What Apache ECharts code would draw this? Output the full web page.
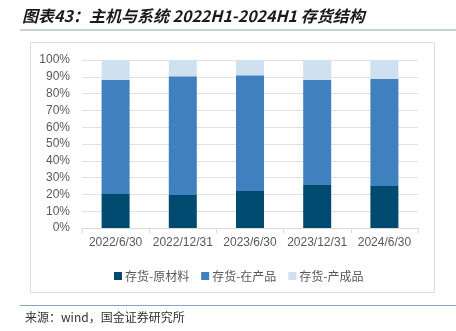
<!DOCTYPE html>
<html><head><meta charset="utf-8">
<script src="https://cdn.jsdelivr.net/npm/echarts@6/dist/echarts.min.js"></script>
<style>html,body{margin:0;padding:0;background:#fff}#c{width:456px;height:331px}</style>
</head><body><div id="c"></div>
<script>
const categories = ['2022/6/30','2022/12/31','2023/6/30','2023/12/31','2024/6/30'];
const rawMaterial = [20.2, 19.6, 22.0, 25.6, 25.0];
const workInProgress = [68.1, 70.7, 68.9, 62.5, 63.7];
const finishedGoods = [11.7, 9.7, 9.1, 11.9, 11.3];
const seriesNames = ['存货-原材料','存货-在产品','存货-产成品'];
const colors = ['#004a6f','#4080bf','#cfe0f1'];

const chart = echarts.init(document.getElementById('c'));
const mk = (name, data, color) => ({
  name, type:'bar', stack:'s', data, barWidth:28,
  itemStyle:{color}, emphasis:{disabled:true}
});
chart.setOption({
  animation:false,
  color: colors,
  grid:{left:82, right:38, top:60, bottom:103},
  legend:{
    data:seriesNames, top:265, left:109,
    itemWidth:8, itemHeight:8, itemGap:12, icon:'rect',
    textStyle:{color:'#595959', fontSize:12, fontFamily:'Noto Sans CJK SC', padding:[0,0,0,-2]}
  },
  xAxis:{
    type:'category', data:categories,
    axisLine:{lineStyle:{color:'#d9d9d9'}},
    axisTick:{show:true, lineStyle:{color:'#d9d9d9'}},
    axisLabel:{color:'#595959', fontSize:12, margin:9, interval:0, fontFamily:'Liberation Sans'}
  },
  yAxis:{
    type:'value', min:0, max:100, interval:10,
    axisLabel:{formatter:'{value}%', color:'#595959', fontSize:12, fontFamily:'Liberation Sans', margin:12},
    splitLine:{lineStyle:{color:'#e0e0e0'}},
    axisLine:{show:false}, axisTick:{show:false}
  },
  series:[
    mk(seriesNames[0], rawMaterial, colors[0]),
    mk(seriesNames[1], workInProgress, colors[1]),
    mk(seriesNames[2], finishedGoods, colors[2])
  ],
  graphic:[
    {type:'text', left:22, top:8, style:{text:'图表43：主机与系统 2022H1-2024H1 存货结构', fill:'#1a1a1a',
      font:'italic bold 16px "Noto Sans CJK SC"'}},
    {type:'line', shape:{x1:20, y1:30, x2:456, y2:30}, style:{stroke:'#8aa5b9', lineWidth:1}},
    {type:'rect', shape:{x:30.5, y:42.5, width:404, height:250}, style:{fill:'none', stroke:'#dedede', lineWidth:1}},
    {type:'line', shape:{x1:20, y1:305.5, x2:456, y2:305.5}, style:{stroke:'#8aa5b9', lineWidth:1}},
    {type:'text', left:25, top:311, style:{text:'来源：wind，国金证券研究所', fill:'#333',
      font:'12px "Noto Sans CJK SC"'}}
  ]
});
</script></body></html>
